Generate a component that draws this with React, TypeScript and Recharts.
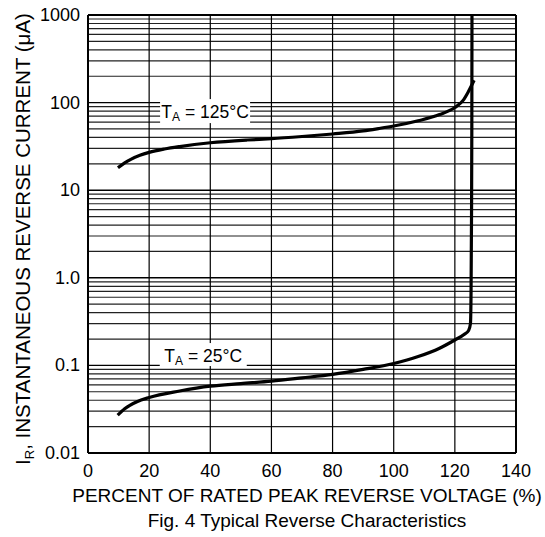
import React from "react";
import { LineChart, Line, XAxis, YAxis, ReferenceLine, ReferenceDot } from "recharts";

const xTicks = [0, 20, 40, 60, 80, 100, 120, 140];
const xGrid = [20, 40, 60, 80, 100, 120];
const yTicks = [0.01, 0.1, 1, 10, 100, 1000];
const yTickLabels = ["0.01", "0.1", "1.0", "10", "100", "1000"];
const decades = [0.01, 0.1, 1, 10, 100];
const multipliers = [2, 3, 4, 5, 6, 7, 8, 9];
const yMinorGrid = decades.flatMap((d) => multipliers.map((m) => +(d * m).toPrecision(3)));

const curve125 = [
  { x: 9.8, y: 18 },
  { x: 12, y: 20.5 },
  { x: 14, y: 22.5 },
  { x: 17, y: 25 },
  { x: 20, y: 27 },
  { x: 25, y: 29.5 },
  { x: 30, y: 31.5 },
  { x: 40, y: 34.8 },
  { x: 52, y: 37.4 },
  { x: 60, y: 38.7 },
  { x: 70, y: 41 },
  { x: 80, y: 43.8 },
  { x: 90, y: 47.5 },
  { x: 95, y: 50.5 },
  { x: 100, y: 54 },
  { x: 108, y: 62 },
  { x: 115, y: 73 },
  { x: 120, y: 88 },
  { x: 122.7, y: 106 },
  { x: 124.4, y: 133 },
  { x: 126.3, y: 180 },
];

const curve25 = [
  { x: 9.7, y: 0.027 },
  { x: 12, y: 0.032 },
  { x: 16, y: 0.0385 },
  { x: 20, y: 0.043 },
  { x: 30, y: 0.051 },
  { x: 40, y: 0.058 },
  { x: 50, y: 0.062 },
  { x: 60, y: 0.066 },
  { x: 70, y: 0.072 },
  { x: 80, y: 0.079 },
  { x: 90, y: 0.09 },
  { x: 100, y: 0.105 },
  { x: 108, y: 0.126 },
  { x: 115, y: 0.157 },
  { x: 120, y: 0.195 },
  { x: 123, y: 0.225 },
  { x: 124.5, y: 0.25 },
  { x: 125.1, y: 0.3 },
  { x: 125.3, y: 0.7 },
  { x: 125.45, y: 5 },
  { x: 125.55, y: 50 },
  { x: 125.6, y: 1000 },
];

const tag125 = { x: 38.3, y: 80, temp: "125" };
const tag25 = { x: 37.7, y: 0.133, temp: "25" };

const FONT = "'Liberation Sans', Arial, Helvetica, sans-serif";

const XTick = (props: any) => {
  const { x, y, payload } = props;
  return (
    <text x={x} y={y + 22} textAnchor="middle" fontSize={18} fontFamily={FONT} fill="#000">
      {payload.value}
    </text>
  );
};

const YTick = (props: any) => {
  const { x, y, payload } = props;
  const idx = yTicks.indexOf(payload.value);
  return (
    <text x={x - 6} y={y + 6} textAnchor="end" fontSize={18} fontFamily={FONT} fill="#000">
      {idx >= 0 ? yTickLabels[idx] : ""}
    </text>
  );
};

const XTitle = (props: any) => {
  const vb = props.viewBox || {};
  const cx = vb.x + vb.width / 2 + 5;
  return (
    <g>
      <text x={cx} y={vb.y + 49} textAnchor="middle" fontSize={19} fontFamily={FONT} fill="#000">
        PERCENT OF RATED PEAK REVERSE VOLTAGE (%)
      </text>
      <text x={cx} y={vb.y + 74} textAnchor="middle" fontSize={19} fontFamily={FONT} fill="#000">
        Fig. 4 Typical Reverse Characteristics
      </text>
    </g>
  );
};

const YTitle = (props: any) => {
  const vb = props.viewBox || {};
  const cx = 30;
  const cy = vb.y + vb.height / 2 + 5;
  return (
    <text
      x={cx}
      y={cy}
      transform={`rotate(-90 ${cx} ${cy})`}
      textAnchor="middle"
      fontSize={20.5}
      fontFamily={FONT}
      fill="#000"
    >
      I
      <tspan fontSize={13} dy={4}>R</tspan>
      <tspan dy={-4}>, INSTANTANEOUS REVERSE CURRENT (μA)</tspan>
    </text>
  );
};

const makeTag = (temp: string, w: number, h: number) => (props: any) => {
  const { cx, cy } = props;
  return (
    <g>
      <rect x={cx - w / 2} y={cy - h / 2} width={w} height={h} fill="#fff" />
      <text x={cx} y={cy + 7} textAnchor="middle" fontSize={17.5} fontFamily={FONT} fill="#000">
        T
        <tspan fontSize={12} dy={3}>A</tspan>
        <tspan dy={-3}>{` = ${temp}°C`}</tspan>
      </text>
    </g>
  );
};

export default function App() {
  return (
    <div style={{ position: "absolute", left: 0, top: 0, background: "#fff" }}>
      <LineChart width={545} height={537} margin={{ top: 15, right: 29, bottom: 0, left: 0 }}>
        <XAxis
          dataKey="x"
          type="number"
          domain={[0, 140]}
          ticks={xTicks}
          allowDataOverflow
          height={84}
          tick={<XTick />}
          tickLine={false}
          tickSize={0}
          axisLine={{ stroke: "#000", strokeWidth: 2 }}
          label={{ content: <XTitle /> }}
        />
        <YAxis
          type="number"
          scale="log"
          domain={[0.01, 1000]}
          ticks={yTicks}
          allowDataOverflow
          width={88}
          tick={<YTick />}
          tickLine={false}
          tickSize={0}
          axisLine={{ stroke: "#000", strokeWidth: 2 }}
          label={{ content: <YTitle /> }}
        />
        {yMinorGrid.map((v) => (
          <ReferenceLine key={"m" + v} y={v} stroke="#222" strokeWidth={1.2} />
        ))}
        {yTicks.slice(1, 5).map((v) => (
          <ReferenceLine key={"d" + v} y={v} stroke="#000" strokeWidth={1.4} />
        ))}
        {xGrid.map((v) => (
          <ReferenceLine key={"v" + v} x={v} stroke="#000" strokeWidth={1.2} />
        ))}
        <ReferenceLine x={140} stroke="#000" strokeWidth={2} />
        <ReferenceLine y={1000} stroke="#000" strokeWidth={2} />
        <ReferenceDot x={tag125.x} y={tag125.y} r={1} shape={makeTag(tag125.temp, 90, 24)} />
        <ReferenceDot x={tag25.x} y={tag25.y} r={1} shape={makeTag(tag25.temp, 87, 23)} />
        <Line data={curve125} dataKey="y" type="monotone" stroke="#000" strokeWidth={3.2} dot={false} isAnimationActive={false} />
        <Line data={curve25} dataKey="y" type="monotone" stroke="#000" strokeWidth={3.2} dot={false} isAnimationActive={false} />
      </LineChart>
    </div>
  );
}
